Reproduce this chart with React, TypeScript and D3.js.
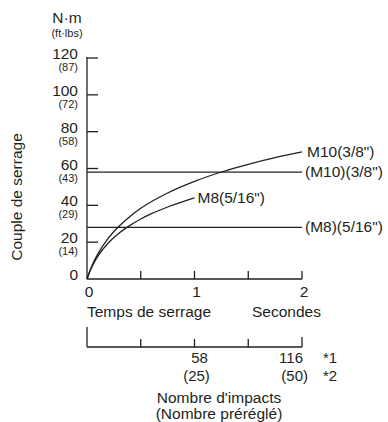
import React from "react";
import * as d3 from "d3";

const yTicks = [0, 20, 40, 60, 80, 100, 120];
const yTickSub = ["", "(14)", "(29)", "(43)", "(58)", "(72)", "(87)"];
const xTicks = [0, 0.5, 1, 1.5, 2];
const xTickLabels = ["0", "", "1", "", "2"];
const impactTicks = [0, 29, 58, 87, 116];
const impactLabels = ["", "", "58", "", "116"];
const impactSub = ["", "", "(25)", "", "(50)"];

const m10Time = [0, 0.025, 0.05, 0.1, 0.2, 0.3, 0.4, 0.5, 0.75, 1, 1.25, 1.5, 1.75, 2];
const m10Torque = [0, 4.1, 7.7, 13.5, 22.3, 28.8, 34, 38.4, 46.7, 53, 58.1, 62.3, 65.9, 69];
const m8Time = [0, 0.025, 0.05, 0.1, 0.2, 0.3, 0.4, 0.5, 0.6, 0.75, 0.9, 1];
const m8Torque = [0, 3.9, 7.1, 12.3, 19.7, 25, 29.1, 32.6, 35.5, 39.1, 42.2, 44];
const levelValues = [58, 28];
const levelLabels = ["(M10)(3/8\")", "(M8)(5/16\")"];

const FONT = "'Liberation Sans', Arial, Helvetica, sans-serif";
const INK = "#231f20";

export default function App() {
  const x = d3.scaleLinear().domain([0, 2]).range([87, 302]);
  const y = d3.scaleLinear().domain([0, 120]).range([279, 58]);
  const xi = d3.scaleLinear().domain([0, 116]).range([87, 302]);

  const line = d3
    .line<[number, number]>()
    .x((d) => x(d[0]))
    .y((d) => y(d[1]))
    .curve(d3.curveMonotoneX);

  const m10 = m10Time.map((t, i) => [t, m10Torque[i]] as [number, number]);
  const m8 = m8Time.map((t, i) => [t, m8Torque[i]] as [number, number]);

  const lastM10 = m10[m10.length - 1];
  const lastM8 = m8[m8.length - 1];
  const lastIdx = impactTicks.length - 1;

  return (
    <svg
      width={388}
      height={422}
      style={{ position: "absolute", left: 0, top: 0, background: "#fff" }}
      fontFamily={FONT}
      fill={INK}
    >
      <text x={67} y={23} fontSize={15.5} textAnchor="middle">N·m</text>
      <text x={67} y={37} fontSize={11} textAnchor="middle">(ft·lbs)</text>

      <text transform="translate(22,197) rotate(-90)" fontSize={15.5} textAnchor="middle">
        Couple de serrage
      </text>

      <line x1={x(0)} x2={x(0)} y1={y(120) - 1} y2={y(0)} stroke={INK} strokeWidth={1.3} />
      {yTicks.map((v, i) => (
        <g key={"yt" + v}>
          {v > 0 && (
            <line x1={x(0)} x2={x(0) + 11} y1={y(v)} y2={y(v)} stroke={INK} strokeWidth={1.3} />
          )}
          <text x={78} y={y(v) + 1} fontSize={15.5} textAnchor="end">{v}</text>
          {yTickSub[i] && (
            <text x={78} y={y(v) + 13} fontSize={11} textAnchor="end">{yTickSub[i]}</text>
          )}
        </g>
      ))}

      <line x1={x(0)} x2={x(2)} y1={y(0)} y2={y(0)} stroke={INK} strokeWidth={1.3} />
      {xTicks.map((t, i) => (
        <g key={"xt" + t}>
          {t > 0 && (
            <line x1={x(t)} x2={x(t)} y1={y(0)} y2={y(0) - 8} stroke={INK} strokeWidth={1.3} />
          )}
          {xTickLabels[i] && (
            <text x={x(t) + 2} y={297} fontSize={15.5} textAnchor="middle">{xTickLabels[i]}</text>
          )}
        </g>
      ))}
      <text x={87} y={317} fontSize={15.5}>Temps de serrage</text>
      <text x={252} y={317} fontSize={15.5}>Secondes</text>

      {levelValues.map((v, i) => (
        <g key={"lv" + v}>
          <line x1={x(0)} x2={x(2)} y1={y(v)} y2={y(v)} stroke={INK} strokeWidth={1.3} />
          <text x={x(2) + 3} y={y(v) + 5} fontSize={15.5}>{levelLabels[i]}</text>
        </g>
      ))}

      <path d={line(m10) || ""} fill="none" stroke={INK} strokeWidth={1.3} />
      <path d={line(m8) || ""} fill="none" stroke={INK} strokeWidth={1.3} />
      <text x={x(lastM10[0]) + 5} y={y(lastM10[1]) + 5} fontSize={15.5}>M10(3/8")</text>
      <text x={x(lastM8[0]) + 3} y={y(lastM8[1]) + 5} fontSize={15.5}>M8(5/16")</text>

      <line x1={xi(0)} x2={xi(0)} y1={327} y2={347} stroke={INK} strokeWidth={1.3} />
      <line x1={xi(0)} x2={xi(116)} y1={347} y2={347} stroke={INK} strokeWidth={1.3} />
      {impactTicks.map((v, i) => (
        <g key={"it" + v}>
          {v > 0 && (
            <line x1={xi(v)} x2={xi(v)} y1={347} y2={v === 116 ? 337 : 339} stroke={INK} strokeWidth={1.3} />
          )}
          {impactLabels[i] && (
            <text
              x={i === lastIdx ? xi(v) + 1 : xi(v) + 5}
              y={363}
              fontSize={15}
              textAnchor={i === lastIdx ? "end" : "middle"}
            >
              {impactLabels[i]}
            </text>
          )}
          {impactSub[i] && (
            <text
              x={i === lastIdx ? xi(v) + 6 : xi(v) + 2}
              y={381}
              fontSize={15}
              textAnchor={i === lastIdx ? "end" : "middle"}
            >
              {impactSub[i]}
            </text>
          )}
        </g>
      ))}
      <text x={323} y={363} fontSize={15}>*1</text>
      <text x={323} y={381} fontSize={15}>*2</text>
      <text x={219} y={403} fontSize={15.5} textAnchor="middle">Nombre d'impacts</text>
      <text x={219} y={419} fontSize={15.5} textAnchor="middle">(Nombre préréglé)</text>
    </svg>
  );
}
